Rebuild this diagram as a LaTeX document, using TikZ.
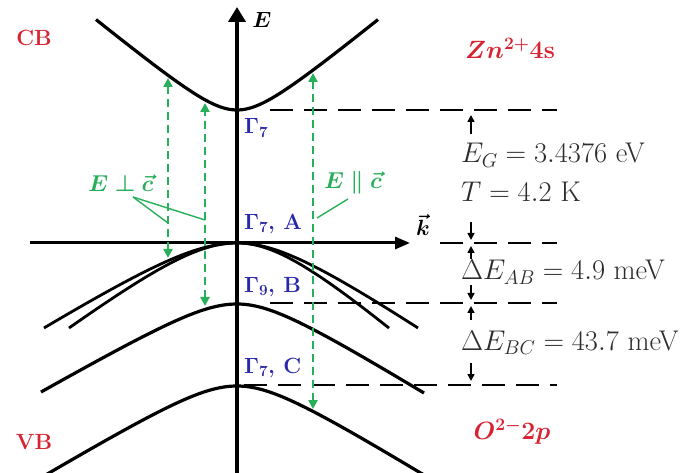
\RequirePackage{fix-cm}
\documentclass[tikz,border=0pt]{standalone}
\usepackage{amsmath,bm}
\usetikzlibrary{arrows.meta}
\definecolor{cbred}{RGB}{215,35,50}
\definecolor{gblue}{RGB}{40,40,170}
\definecolor{tgreen}{RGB}{40,175,90}
\definecolor{dtext}{RGB}{45,45,45}
\begin{document}
\begin{tikzpicture}[x=1pt,y=-1pt,
  band/.style={line width=3.2pt},
  level/.style={line width=2.6pt, dash pattern=on 23pt off 11pt},
  trans/.style={tgreen, line width=2.6pt, dash pattern=on 8pt off 5pt,
     {Triangle[length=9pt,width=9pt]}-{Triangle[length=9pt,width=9pt]}},
  leader/.style={tgreen, line width=1.4pt},
  dimarrow/.style={line width=1.6pt, -{Triangle[length=7pt,width=7pt]}},
  redlbl/.style={text=cbred, font=\fontsize{22}{26}\selectfont\bfseries, inner sep=0pt},
  bluelbl/.style={text=gblue, font=\fontsize{22}{26}\selectfont\bfseries, inner sep=0pt, anchor=west},
  greenlbl/.style={text=tgreen, font=\fontsize{23}{27}\selectfont, inner sep=0pt},
  vallbl/.style={text=dtext, font=\fontsize{28.5}{33}\selectfont, inner sep=0pt, anchor=base west}]
\useasboundingbox (0,0) rectangle (686,473);
\fill[white] (0,0) rectangle (686,473);

% axes
\coordinate (Ebot) at (237,473);
\coordinate (Etop) at (237,7);
\coordinate (kL) at (30,243);
\coordinate (kR) at (410,243);
\draw[line width=4.6pt, -{Triangle[length=15pt,width=17pt]}] (Ebot) -- (Etop);
\draw[line width=3pt, -{Triangle[length=15pt,width=12pt]}] (kL) -- (kR);
\node[inner sep=0pt, font=\fontsize{22}{26}\selectfont] (Elbl) at (262,20) {$\bm{E}$};
\node[inner sep=0pt, font=\fontsize{22}{26}\selectfont] (klbl) at (423,225) {$\bm{\vec{k}}$};

% conduction band
\draw[band] plot[domain=-141:141, samples=90] ({237+\x},{110-0.82*(10*sqrt(12.25+(\x/10)^2)-35)});

% valence band A (two branches each side)
\draw[band, line width=2.8pt] plot[domain=-193:0, samples=70] ({237+\x},{243+0.628*(10*sqrt(49+(\x/10)^2)-70)});
\draw[band, line width=2.8pt] plot[domain=-168:0, samples=70] ({237+\x},{243+0.759*(10*sqrt(49+(\x/10)^2)-70)});
\draw[band, line width=2.8pt] plot[domain=0:152, samples=70] ({237+\x},{243+0.874*(10*sqrt(49+(\x/10)^2)-70)});
\draw[band, line width=2.8pt] plot[domain=0:181, samples=70] ({237+\x},{243+0.685*(10*sqrt(49+(\x/10)^2)-70)});

% valence band B
\draw[band] plot[domain=-196:0, samples=70] ({237+\x},{304+0.578*(10*sqrt(25+(\x/10)^2)-50)});
\draw[band] plot[domain=0:187, samples=70] ({237+\x},{304+0.62*(10*sqrt(25+(\x/10)^2)-50)});

% valence band C
\draw[band] plot[domain=-192:0, samples=70] ({237+\x},{386+0.602*(10*sqrt(25+(\x/10)^2)-50)});
\draw[band] plot[domain=0:188, samples=70] ({237+\x},{386+0.62*(10*sqrt(25+(\x/10)^2)-50)});

% dashed level lines
\coordinate (g7s) at (270,110);  \coordinate (g7e) at (557,110);
\coordinate (As) at (440,243);   \coordinate (Ae) at (557,243);
\coordinate (Bs) at (270,303);   \coordinate (Be) at (557,303);
\coordinate (Cs) at (244,385);   \coordinate (Ce) at (557,385);
\draw[level] (g7s) -- (g7e);
\draw[level] (As) -- (Ae);
\draw[level] (Bs) -- (Be);
\draw[level] (Cs) -- (Ce);

% dimension stubs
\coordinate (d1a) at (471,134); \coordinate (d1b) at (471,115);
\coordinate (d2a) at (471,222); \coordinate (d2b) at (471,240);
\coordinate (d3a) at (471,259); \coordinate (d3b) at (471,246);
\coordinate (d4a) at (471,285); \coordinate (d4b) at (471,300);
\coordinate (d5a) at (471,320); \coordinate (d5b) at (471,306);
\coordinate (d6a) at (471,363); \coordinate (d6b) at (471,381);
\foreach \a/\b in {d1a/d1b,d2a/d2b,d3a/d3b,d4a/d4b,d5a/d5b,d6a/d6b}
  \draw[dimarrow] (\a) -- (\b);

% values
\node[vallbl] (eg) at (461,163) {$E_G = 3.4376$ eV};
\node[vallbl] (temp) at (461,202) {$T = 4.2$ K};
\node[vallbl] (dab) at (461,280) {$\Delta E_{AB} = 4.9$ meV};
\node[vallbl] (dbc) at (461,350) {$\Delta E_{BC} = 43.7$ meV};

% optical transitions
\coordinate (t1b) at (168,258); \coordinate (t1t) at (168,78);
\coordinate (t2b) at (205,306); \coordinate (t2t) at (205,103);
\coordinate (t3b) at (313,409); \coordinate (t3t) at (313,73);
\draw[trans] (t1b) -- (t1t);
\draw[trans] (t2b) -- (t2t);
\draw[trans] (t3b) -- (t3t);

% polarisation labels and leaders
\node[greenlbl] (eperp) at (121,183) {$\bm{E \perp \vec{c}}$};
\node[greenlbl] (epar) at (353,183) {$\bm{E \parallel \vec{c}}$};
\coordinate (lp1) at (133,197);
\coordinate (l1a) at (168,223);
\coordinate (l1b) at (205,220);
\coordinate (lp2) at (348,199);
\coordinate (l2a) at (317,218);
\draw[leader] (lp1) -- (l1a);
\draw[leader] (lp1) -- (l1b);
\draw[leader] (lp2) -- (l2a);

% symmetry labels
\node[bluelbl] (g7) at (244,128) {$\bm{\Gamma_7}$};
\node[bluelbl] (g7A) at (244,224) {$\bm{\Gamma_7}$, A};
\node[bluelbl] (g9B) at (244,287) {$\bm{\Gamma_9}$, B};
\node[bluelbl] (g7C) at (244,368) {$\bm{\Gamma_7}$, C};

% band names
\node[redlbl] (cb) at (34,38) {CB};
\node[redlbl] (vb) at (34,442) {VB};
\node[redlbl, font=\fontsize{25}{30}\selectfont\bfseries] (zn) at (510,48) {$\bm{Zn^{2+}}$4s};
\node[redlbl, font=\fontsize{25}{30}\selectfont\bfseries] (op) at (512,432) {$\bm{O^{2-}2p}$};
\end{tikzpicture}
\end{document}
